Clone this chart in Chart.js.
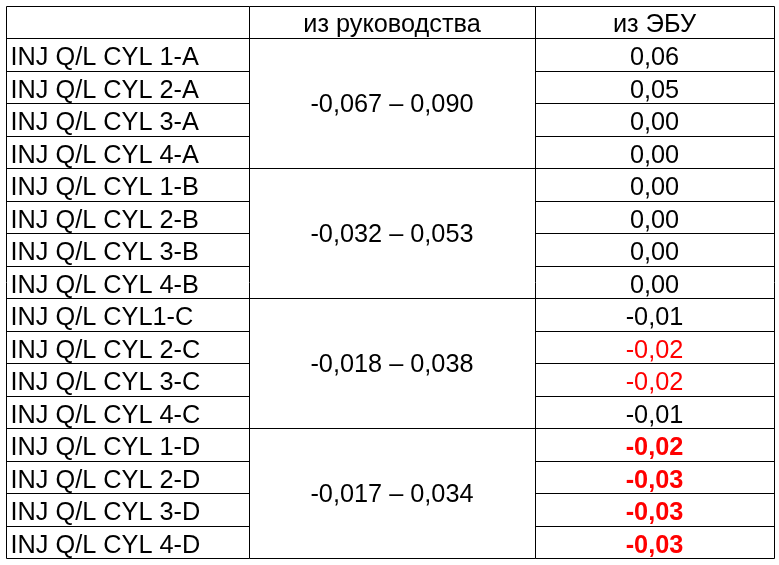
<!DOCTYPE html>
<html lang="ru">
<head>
  <meta charset="UTF-8">
  <title>INJ Q/L CYL</title>
  <script src="https://cdn.jsdelivr.net/npm/chart.js"></script>
  <style>
    html, body {
      margin: 0;
      padding: 0;
      background: #ffffff;
    }
    #wrap {
      width: 779px;
      height: 565px;
    }
  </style>
</head>
<body>
  <div id="wrap"><canvas id="tbl" width="779" height="565"></canvas></div>

  <script>
    const headers = ['', 'из руководства', 'из ЭБУ'];
    const rowLabels = [
      'INJ Q/L CYL 1-A', 'INJ Q/L CYL 2-A', 'INJ Q/L CYL 3-A', 'INJ Q/L CYL 4-A',
      'INJ Q/L CYL 1-B', 'INJ Q/L CYL 2-B', 'INJ Q/L CYL 3-B', 'INJ Q/L CYL 4-B',
      'INJ Q/L CYL1-C', 'INJ Q/L CYL 2-C', 'INJ Q/L CYL 3-C', 'INJ Q/L CYL 4-C',
      'INJ Q/L CYL 1-D', 'INJ Q/L CYL 2-D', 'INJ Q/L CYL 3-D', 'INJ Q/L CYL 4-D'
    ];
    // допуск из руководства, по группам A..D
    const groupMin = [-0.067, -0.032, -0.018, -0.017];
    const groupMax = [0.090, 0.053, 0.038, 0.034];
    // значения из ЭБУ
    const ecuValues = [
      0.06, 0.05, 0.00, 0.00,
      0.00, 0.00, 0.00, 0.00,
      -0.01, -0.02, -0.02, -0.01,
      -0.02, -0.03, -0.03, -0.03
    ];

    const rowsPerGroup = 4;
    // границы колонок (в единицах оси x)
    const colEdges = [0, 243, 529, 768];
    const FONT = '"Liberation Sans", Arial, sans-serif';
    const SIZE = 25.3;

    const fmt = (v, d) => v.toFixed(d).replace('.', ',');
    const outOfRange = i => {
      const g = Math.floor(i / rowsPerGroup);
      return ecuValues[i] < groupMin[g] || ecuValues[i] > groupMax[g];
    };
    // жирным, если вся группа вне допуска
    const groupAllOut = g => ecuValues
      .slice(g * rowsPerGroup, (g + 1) * rowsPerGroup)
      .every((_, k) => outOfRange(g * rowsPerGroup + k));

    const tablePlugin = {
      id: 'tablePlugin',
      afterDraw(chart) {
        const { ctx, scales: { x, y } } = chart;
        const px = v => Math.round(x.getPixelForValue(v)) + 0.5;
        const py = v => Math.round(y.getPixelForValue(v)) + 0.5;
        const top = py(-1.5), bottom = py(rowLabels.length - 0.5);

        ctx.save();
        ctx.strokeStyle = '#000';
        ctx.lineWidth = 1;
        ctx.beginPath();
        // вертикальные линии
        colEdges.forEach(e => {
          ctx.moveTo(px(e), top);
          ctx.lineTo(px(e), bottom);
        });
        // горизонтальные линии
        for (let b = -1.5; b <= rowLabels.length - 0.5; b++) {
          const yy = py(b);
          const groupEdge = b === -1.5 || (b + 0.5) % rowsPerGroup === 0;
          ctx.moveTo(px(colEdges[0]), yy);
          ctx.lineTo(px(colEdges[1]), yy);
          if (groupEdge) {
            ctx.lineTo(px(colEdges[2]), yy);
          } else {
            ctx.moveTo(px(colEdges[2]), yy);
          }
          ctx.lineTo(px(colEdges[3]), yy);
        }
        ctx.stroke();

        ctx.textBaseline = 'alphabetic';
        ctx.font = SIZE + 'px ' + FONT;
        ctx.fillStyle = '#000';

        // заголовок
        ctx.textAlign = 'center';
        headers.forEach((h, c) => {
          const cx = (x.getPixelForValue(colEdges[c]) + x.getPixelForValue(colEdges[c + 1])) / 2;
          ctx.fillText(h, cx, y.getPixelForValue(-0.5) - 6);
        });

        // строки
        const midX = (x.getPixelForValue(colEdges[1]) + x.getPixelForValue(colEdges[2])) / 2;
        const ecuX = (x.getPixelForValue(colEdges[2]) + x.getPixelForValue(colEdges[3])) / 2;
        rowLabels.forEach((label, i) => {
          const yb = y.getPixelForValue(i + 0.5) - 5.5;
          ctx.textAlign = 'left';
          ctx.fillStyle = '#000';
          ctx.font = SIZE + 'px ' + FONT;
          ctx.fillText(label, x.getPixelForValue(colEdges[0]) + 4.5, yb);

          const g = Math.floor(i / rowsPerGroup);
          const bad = outOfRange(i);
          ctx.textAlign = 'center';
          ctx.fillStyle = bad ? '#ff0000' : '#000';
          ctx.font = (bad && groupAllOut(g) ? 'bold ' : '') + SIZE + 'px ' + FONT;
          ctx.fillText(fmt(ecuValues[i], 2), ecuX, yb);
        });

        // допуски (объединённые ячейки)
        ctx.fillStyle = '#000';
        ctx.font = SIZE + 'px ' + FONT;
        ctx.textAlign = 'center';
        groupMin.forEach((mn, g) => {
          const cy = y.getPixelForValue(g * rowsPerGroup + (rowsPerGroup - 1) / 2);
          ctx.fillText(fmt(mn, 3) + ' – ' + fmt(groupMax[g], 3), midX, cy + 8.5);
        });
        ctx.restore();
      }
    };

    const ecuX0 = (colEdges[2] + colEdges[3]) / 2;

    new Chart(document.getElementById('tbl'), {
      type: 'scatter',
      data: {
        datasets: [{
          label: 'из ЭБУ',
          data: ecuValues.map((v, i) => ({ x: ecuX0, y: i })),
          pointRadius: 0,
          pointHoverRadius: 0
        }]
      },
      options: {
        responsive: false,
        animation: false,
        devicePixelRatio: 1,
        layout: { padding: { top: 6, left: 6, right: 5, bottom: 7 } },
        scales: {
          x: { type: 'linear', min: colEdges[0], max: colEdges[3], display: false },
          y: { type: 'linear', min: -1.5, max: rowLabels.length - 0.5, reverse: true, display: false }
        },
        plugins: {
          legend: { display: false },
          tooltip: { enabled: false }
        }
      },
      plugins: [tablePlugin]
    });
  </script>
</body>
</html>
